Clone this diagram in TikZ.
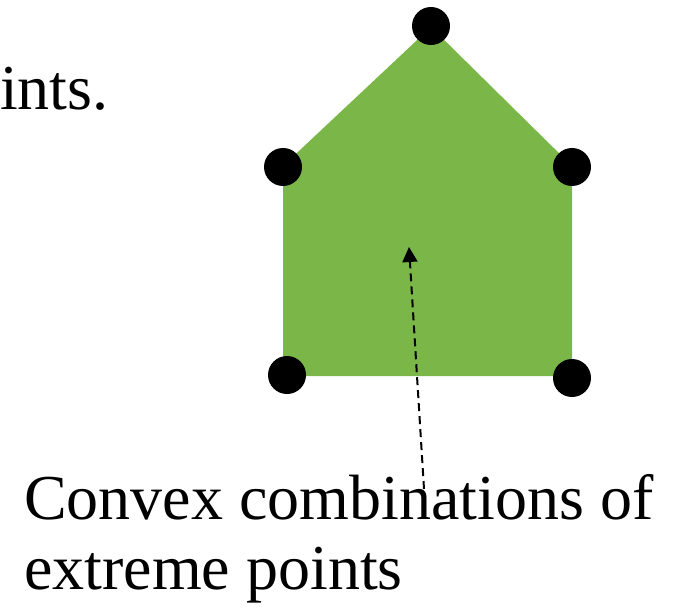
\documentclass[tikz,border=0pt]{standalone}
\usepackage{fontspec}
\setmainfont{Liberation Serif}
\usetikzlibrary{arrows.meta}
\definecolor{hullgreen}{HTML}{7AB648}
\tikzset{
  vdot/.style={circle,fill=black,minimum size=38pt,inner sep=0pt},
  bigtext/.style={inner sep=0pt,anchor=base west,font=\fontsize{64}{70}\selectfont},
  pointer/.style={draw=black,line width=2pt,dash pattern=on 8pt off 5pt,-{Triangle[length=15pt,width=15pt]}}
}
\begin{document}
\begin{tikzpicture}[x=1pt,y=-1pt]
\useasboundingbox (0,0) rectangle (676,609);
\fill[hullgreen] (431,27) -- (572,166) -- (572,376) -- (283,376) -- (283,166) -- cycle;
\node[vdot] (top) at (431,26) {};
\node[vdot] (ul) at (283,167) {};
\node[vdot] (ur) at (572,167) {};
\node[vdot] (bl) at (287,375) {};
\node[vdot] (br) at (572,378) {};
\node[bigtext] (ints) at (0,110) {ints.};
\node[bigtext] (line1) at (24,519) {Convex combinations of};
\node[bigtext] (line2) at (24,589) {extreme points};
\coordinate (astart) at (424,489);
\coordinate (aend) at (409,247);
\draw[pointer] (astart) -- (aend);
\end{tikzpicture}
\end{document}
